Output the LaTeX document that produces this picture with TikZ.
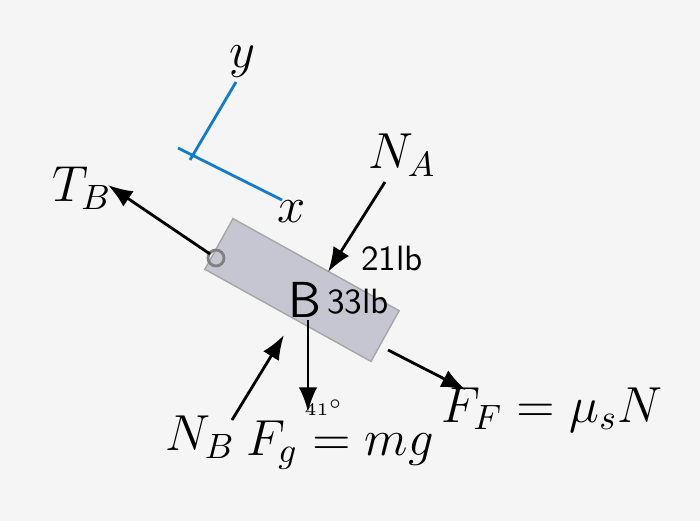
\documentclass[tikz,border=0pt]{standalone}
\usepackage{tikz}
\usetikzlibrary{positioning, arrows.meta}
\begin{document}
\begin{tikzpicture}[x=0.01cm, y=-0.01cm,
    force/.style={thick, -{Latex[length=7pt]}},
    lbl/.style={font=\Large}]
    %% background
    \fill[gray!8] (0,0) rectangle (700,521);
    \useasboundingbox (0,0) rectangle (700,521);
    %% axes
    \draw[cyan!60!blue, thick] (236,82) -- (190,160)
                              (178,148) -- (282,200);
    \node[font=\Large\itshape] (ylab) at (242,62) {$y$};
    \node[font=\Large\itshape] (xlab) at (292,212) {$x$};
    %% block
    \node[draw=gray!70, fill=blue!12!gray!40, minimum width=190*0.01cm, minimum height=58*0.01cm,
          rotate=-29] (blk) at (302,290) {};
    \draw[gray, thick] (216,258) circle [radius=8];
    \coordinate (ring) at (210,254);
    \node[font=\Large\sffamily] (B) at (305,300) {B};
    \node[font=\sffamily] (w) at (358,302) {33lb};
    %% forces
    \coordinate (tb) at (108,185);
    \draw[force] (ring) -- (tb);
    \node[lbl] (TB) at (82,188) {$T_B$};
    \coordinate (na0) at (385,182);
    \coordinate (na1) at (328,272);
    \draw[force] (na0) -- (na1);
    \node[lbl] (NA) at (402,155) {$N_A$};
    \node[font=\sffamily] (na) at (392,258) {21lb};
    \coordinate (ff0) at (388,350);
    \coordinate (ff1) at (466,390);
    \draw[force] (ff0) -- (ff1);
    \node[lbl] (FF) at (552,410) {$F_F = \mu_s N$};
    \coordinate (nb0) at (232,420);
    \coordinate (nb1) at (284,335);
    \draw[force] (nb0) -- (nb1);
    \node[lbl] (NB) at (200,437) {$N_B$};
    \coordinate (fg0) at (308,320);
    \coordinate (fg1) at (308,412);
    \draw[force] (fg0) -- (fg1);
    \node[lbl] (Fg) at (340,445) {$F_g = mg$};
    \node[font=\tiny, inner sep=0pt] (ang) at (324,408) {41$^\circ$};
\end{tikzpicture}
\end{document}
